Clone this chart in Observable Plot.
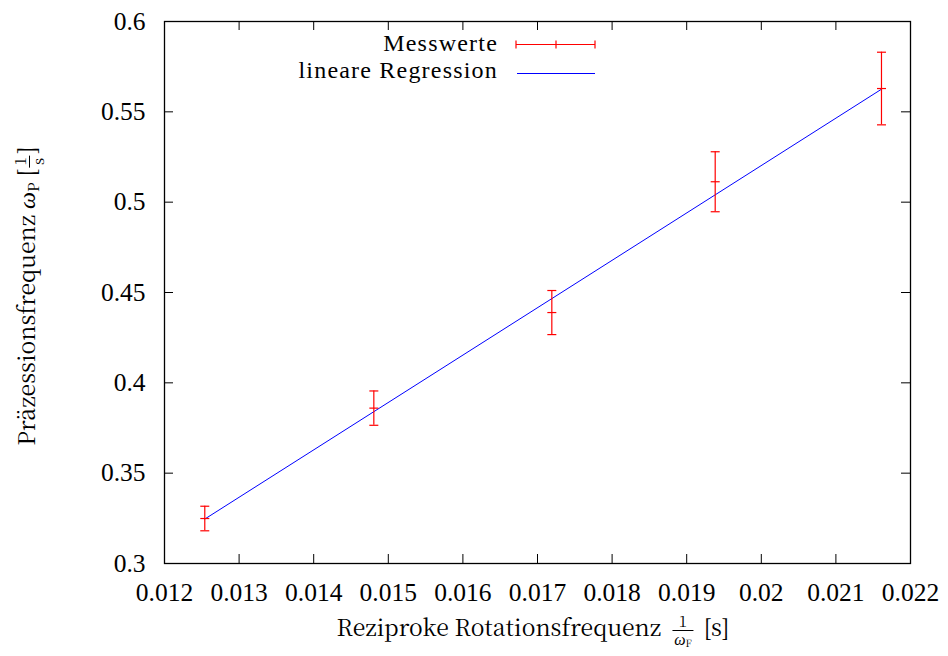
<!DOCTYPE html>
<html>
<head>
<meta charset="utf-8">
<script src="https://cdn.jsdelivr.net/npm/d3@7"></script>
<script src="https://cdn.jsdelivr.net/npm/@observablehq/plot@0.6"></script>
<style>
  html, body { margin: 0; padding: 0; background: #fff; }
  #wrap { position: relative; width: 948px; height: 656px; font-family: "Noto Serif CJK SC", "Liberation Serif", serif; color: #000; }
  .lab { position: absolute; white-space: nowrap; font-size: 23px; line-height: 1; }
  .gr { font-family: "Liberation Serif", serif; font-style: italic; font-size: 24px; }
  .frac { display: inline-block; vertical-align: middle; text-align: center; font-size: 15px; line-height: 1.1; margin: 0 4px 0 5px; }
  .frac > span { display: block; padding: 0 2px; }
  .frac > .den { border-top: 1px solid #000; }
  sub { font-size: 15px; vertical-align: -4px; line-height: 0; }
</style>
</head>
<body>
<div id="wrap"></div>
<script>
const xVals = [0.01254, 0.014806, 0.017192, 0.019382, 0.021611];
const yVals = [0.3249, 0.3860, 0.4389, 0.5113, 0.5629];
const yErr  = [0.0068, 0.0095, 0.0122, 0.0166, 0.0201];

// Linear regression line (end points over the data range)
const regX = [0.01254, 0.02161];
const regY = [0.3246, 0.5625];

// Axis ticks
const xTicks = [0.012, 0.013, 0.014, 0.015, 0.016, 0.017, 0.018, 0.019, 0.020, 0.021, 0.022];
const xTickLabels = ["0.012", "0.013", "0.014", "0.015", "0.016", "0.017", "0.018", "0.019", "0.02", "0.021", "0.022"];
const yTicks = [0.30, 0.35, 0.40, 0.45, 0.50, 0.55, 0.60];
const yTickLabels = ["0.3", "0.35", "0.4", "0.45", "0.5", "0.55", "0.6"];

const legendLabels = ["Messwerte", "lineare Regression"];

const meas = xVals.map((x, i) => ({x, y: yVals[i], lo: yVals[i] - yErr[i], hi: yVals[i] + yErr[i]}));
const reg = regX.map((x, i) => ({x, y: regY[i]}));

const W = 948, H = 656;
const mL = 164, mR = 38, mT = 21, mB = 93;
const pw = W - mL - mR, ph = H - mT - mB;
const tick = 9;
const SERIF = "Liberation Serif, serif";

const hbar = {
  draw(ctx, size) {
    const r = Math.sqrt(size / Math.PI);
    ctx.moveTo(-r, 0);
    ctx.lineTo(r, 0);
  }
};

const chart = Plot.plot({
  width: W,
  height: H,
  marginLeft: mL, marginRight: mR, marginTop: mT, marginBottom: mB,
  style: {fontFamily: SERIF, fontSize: "25px", color: "#000", background: "#fff"},
  x: {domain: [0.012, 0.022], axis: null},
  y: {domain: [0.3, 0.6], axis: null},
  marks: [
    Plot.tickX(xTicks, {x: d => d, insetTop: ph - tick, stroke: "#000"}),
    Plot.tickX(xTicks, {x: d => d, insetBottom: ph - tick, stroke: "#000"}),
    Plot.tickY(yTicks, {y: d => d, insetRight: pw - tick, stroke: "#000"}),
    Plot.tickY(yTicks, {y: d => d, insetLeft: pw - tick, stroke: "#000"}),
    Plot.text(xTicks, {x: d => d, text: (d, i) => xTickLabels[i], frameAnchor: "bottom", lineAnchor: "top", dy: 19, fontFamily: SERIF, fontSize: 25.5, fill: "#000"}),
    Plot.text(yTicks, {y: d => d, text: (d, i) => yTickLabels[i], frameAnchor: "left", textAnchor: "end", dx: -19, fontFamily: SERIF, fontSize: 25.5, fill: "#000"}),
    Plot.line(reg, {x: "x", y: "y", stroke: "#0000ff", strokeWidth: 1}),
    Plot.ruleX(meas, {x: "x", y1: "lo", y2: "hi", stroke: "#ff0000", strokeWidth: 1.2}),
    Plot.dot(meas, {x: "x", y: "lo", symbol: hbar, r: 4.5, stroke: "#ff0000", fill: "none", strokeWidth: 1.2}),
    Plot.dot(meas, {x: "x", y: "hi", symbol: hbar, r: 4.5, stroke: "#ff0000", fill: "none", strokeWidth: 1.2}),
    Plot.dot(meas, {x: "x", y: "y", symbol: hbar, r: 4.5, stroke: "#ff0000", fill: "none", strokeWidth: 1.2}),
    Plot.frame({stroke: "#000", strokeWidth: 1.3})
  ]
});

const wrap = document.getElementById("wrap");
wrap.appendChild(chart);

// Legend (inside plot, top)
const svg = d3.select(chart);
const lg = svg.append("g").attr("font-family", SERIF).attr("font-size", 24).attr("letter-spacing", "1.2px");
lg.append("text").attr("x", 498).attr("y", 51).attr("text-anchor", "end").text(legendLabels[0]);
lg.append("text").attr("x", 498).attr("y", 78).attr("text-anchor", "end").text(legendLabels[1]);
const ly1 = 44.5, lx0 = 516, lx1 = 595, lxm = 556;
lg.append("line").attr("x1", lx0).attr("x2", lx1).attr("y1", ly1).attr("y2", ly1).attr("stroke", "#ff0000").attr("stroke-width", 1.2);
[lx0, lxm, lx1].forEach(x => lg.append("line").attr("x1", x).attr("x2", x).attr("y1", ly1 - 4).attr("y2", ly1 + 4).attr("stroke", "#ff0000").attr("stroke-width", 1.2));
lg.append("line").attr("x1", 517).attr("x2", 595).attr("y1", 73.5).attr("y2", 73.5).attr("stroke", "#0000ff").attr("stroke-width", 1.2);

// Axis labels
const xl = document.createElement("div");
xl.className = "lab";
xl.style.left = "533px";
xl.style.top = "613px";
xl.style.transform = "translateX(-50%)";
xl.innerHTML = 'Reziproke Rotationsfrequenz <span class="frac"><span>1</span><span class="den"><span class="gr" style="font-size:16px">ω</span><sub style="font-size:10px;vertical-align:-2px">F</sub></span></span> [s]';
wrap.appendChild(xl);

const yl = document.createElement("div");
yl.className = "lab";
yl.style.left = "29px";
yl.style.top = "296px";
yl.style.transform = "translate(-50%, -50%) rotate(-90deg)";
yl.innerHTML = 'Präzessionsfrequenz <span class="gr">ω</span><sub>P</sub> [<span class="frac" style="margin:0 1px"><span>1</span><span class="den">s</span></span>]';
wrap.appendChild(yl);
</script>
</body>
</html>
